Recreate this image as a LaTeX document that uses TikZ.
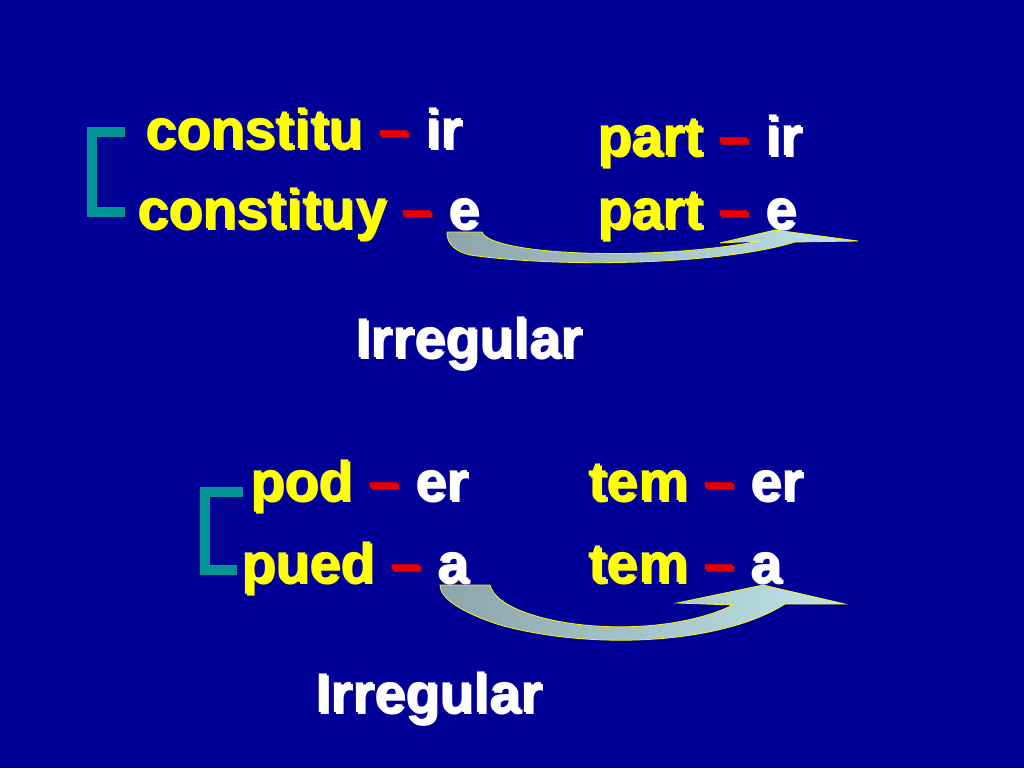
\documentclass[tikz,border=0pt]{standalone}
\usepackage{fontspec}
\setmainfont{Liberation Sans}
\begin{document}
\begin{tikzpicture}[x=0.75pt,y=-0.75pt,
  txt/.style={anchor=base west,inner sep=0pt,font=\fontsize{42}{48}\selectfont\bfseries},
  brk/.style={draw={rgb,255:red,0;green,150;blue,150},line width=7pt},
  arr/.style={draw=yellow,line width=0.6pt,left color={rgb,255:red,140;green,165;blue,170},right color={rgb,255:red,190;green,228;blue,232}}]
\definecolor{bg}{RGB}{0,0,150}
\definecolor{yl}{RGB}{255,255,0}
\definecolor{rd}{RGB}{230,0,0}
\fill[bg] (0,0) rectangle (1024,768);
\useasboundingbox (0,0) rectangle (1024,768);
\newcommand{\w}[3]{%
  \node[txt,text=black!80!bg] at (#1+2,#2+2) {#3};
  \node[txt] (n#1) at (#1,#2) {#3};}
\newcommand{\Y}[1]{\textcolor{yl}{#1}}
\newcommand{\D}{\textcolor{rd}{–}}
\newcommand{\W}[1]{\textcolor{white}{#1}}
% brackets
\draw[brk] (125,132) -- (92,132) -- (92,212) -- (125,212);
\draw[brk] (243,492) -- (205,492) -- (205,570) -- (237,570);
% arrows
\draw[arr] (447,232) -- (482,232) .. controls (490,255) and (650,262) .. (760,241)
  -- (720,243) -- (775,230) -- (858,241) -- (795,242)
  .. controls (720,265) and (560,268) .. (470,255) .. controls (450,250) and (447,240) .. (447,232) -- cycle;
\draw[arr] (440,585) -- (490,585) .. controls (500,625) and (650,645) .. (733,605)
  -- (677,603) -- (763,585) -- (845,604) -- (785,604)
  .. controls (720,645) and (590,650) .. (500,625) .. controls (460,612) and (440,598) .. (440,585) -- cycle;
% texts
\w{145}{148}{\Y{constitu} \D{} \W{ir}}
\w{137}{228}{\Y{constituy} \D{} \W{e}}
\w{597}{155}{\Y{part} \D{} \W{ir}}
\w{597}{228}{\Y{part} \D{} \W{e}}
\w{355}{357}{\W{Irregular}}
\w{250}{500}{\Y{pod} \D{} \W{er}}
\w{241}{582}{\Y{pued} \D{} \W{a}}
\w{588}{500}{\Y{tem} \D{} \W{er}}
\w{588}{582}{\Y{tem} \D{} \W{a}}
\w{315}{712}{\W{Irregular}}
\end{tikzpicture}
\end{document}
